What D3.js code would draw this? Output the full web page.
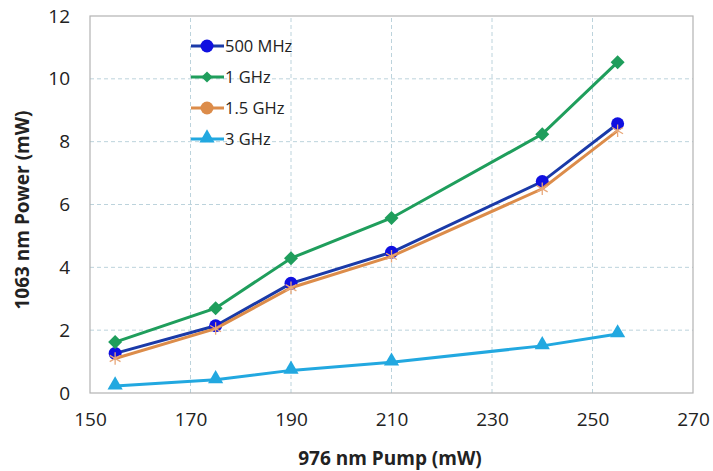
<!DOCTYPE html>
<html>
<head>
<meta charset="utf-8">
<script src="https://cdn.jsdelivr.net/npm/d3@7"></script>
<style>
  body { margin: 0; background: #fff; }
  svg text { font-family: "Open Sans", "Liberation Sans", sans-serif; }
</style>
</head>
<body>
<svg id="chart" width="713" height="471"></svg>
<script>
// pump power (mW) at each measurement
const pump = [155, 175, 190, 210, 240, 255];
const seriesNames = ["500 MHz", "1 GHz", "1.5 GHz", "3 GHz"];
const p500MHz = [1.26, 2.14, 3.49, 4.48, 6.73, 8.57];
const p1GHz   = [1.62, 2.70, 4.29, 5.57, 8.24, 10.53];
const p1_5GHz = [1.10, 2.05, 3.35, 4.35, 6.50, 8.35];
const p3GHz   = [0.22, 0.42, 0.72, 0.98, 1.50, 1.88];
const xTicks = [150, 170, 190, 210, 230, 250, 270];
const yTicks = [0, 2, 4, 6, 8, 10, 12];

const svg = d3.select("#chart");
const margin = {left: 90, right: 20, top: 16, bottom: 78};
const width = 713, height = 471;
const x = d3.scaleLinear().domain([150, 270]).range([margin.left, width - margin.right]);
const y = d3.scaleLinear().domain([0, 12]).range([height - margin.bottom, margin.top]);

const series = [
  {name: seriesNames[0], vals: p500MHz, line: "#1a3aa8", fill: "#1010e0", shape: "circle"},
  {name: seriesNames[1], vals: p1GHz,   line: "#1f9e5c", fill: "#1f9e5c", shape: "diamond"},
  {name: seriesNames[2], vals: p1_5GHz, line: "#dc8c4a", fill: "#dc8c4a", shape: "cross"},
  {name: seriesNames[3], vals: p3GHz,   line: "#22a8e0", fill: "#22a8e0", shape: "triangle"}
];

// grid
const grid = svg.append("g");
yTicks.slice(1, -1).forEach(function(t){
  grid.append("line")
    .attr("x1", x(150)).attr("x2", x(270))
    .attr("y1", y(t)).attr("y2", y(t))
    .attr("stroke", "#bcd3dc").attr("stroke-dasharray", "4,3").attr("stroke-width", 1);
});
xTicks.slice(1, -1).forEach(function(t){
  grid.append("line")
    .attr("x1", x(t)).attr("x2", x(t))
    .attr("y1", y(0)).attr("y2", y(12))
    .attr("stroke", "#bcd3dc").attr("stroke-dasharray", "4,3").attr("stroke-width", 1);
});

// plot frame
svg.append("rect")
  .attr("x", x(150)).attr("y", y(12))
  .attr("width", x(270) - x(150)).attr("height", y(0) - y(12))
  .attr("fill", "none").attr("stroke", "#b3b3b3").attr("stroke-width", 1.2);

// axes
const xAxis = svg.append("g")
  .attr("transform", "translate(0," + y(0) + ")")
  .call(d3.axisBottom(x).tickValues(xTicks).tickSize(0).tickPadding(20));
xAxis.select(".domain").remove();
xAxis.selectAll("text").attr("font-size", 19).attr("fill", "#222");

const yAxis = svg.append("g")
  .attr("transform", "translate(" + x(150) + ",0)")
  .call(d3.axisLeft(y).tickValues(yTicks).tickSize(0).tickPadding(20));
yAxis.select(".domain").remove();
yAxis.selectAll("text").attr("font-size", 19).attr("fill", "#222");

svg.append("text")
  .attr("x", 390).attr("y", 465)
  .attr("text-anchor", "middle")
  .attr("font-size", 19).attr("font-weight", "bold").attr("fill", "#222")
  .text("976 nm Pump (mW)");

svg.append("text")
  .attr("transform", "translate(29,210) rotate(-90)")
  .attr("text-anchor", "middle")
  .attr("font-size", 19).attr("font-weight", "bold").attr("fill", "#222")
  .text("1063 nm Power (mW)");

function drawMarker(g, cx, cy, s, shape, size) {
  const k = size || 1;
  if (shape === "circle") {
    g.append("circle").attr("cx", cx).attr("cy", cy).attr("r", 6.5 * k).attr("fill", s.fill);
  } else if (shape === "diamond") {
    const r = 7 * k;
    g.append("path")
      .attr("d", "M" + cx + "," + (cy - r) + "L" + (cx + r) + "," + cy + "L" + cx + "," + (cy + r) + "L" + (cx - r) + "," + cy + "Z")
      .attr("fill", s.fill);
  } else if (shape === "triangle") {
    g.append("path").attr("d", d3.symbol(d3.symbolTriangle, 100 * k * k)())
      .attr("transform", "translate(" + cx + "," + (cy - 1) + ")").attr("fill", s.fill);
  } else if (shape === "cross") {
    g.append("path").attr("d", d3.symbol(d3.symbolAsterisk, 110)())
      .attr("transform", "translate(" + cx + "," + cy + ")")
      .attr("fill", "none").attr("stroke", "#e8a87a").attr("stroke-width", 1.3);
  }
}

const line = d3.line().x(function(d){ return x(d[0]); }).y(function(d){ return y(d[1]); });

series.forEach(function(s){
  const pts = pump.map(function(p, i){ return [p, s.vals[i]]; });
  const g = svg.append("g");
  g.append("path").datum(pts).attr("d", line)
    .attr("fill", "none").attr("stroke", s.line).attr("stroke-width", 3);
  pts.forEach(function(d){ drawMarker(g, x(d[0]), y(d[1]), s, s.shape); });
});

// legend
const legend = svg.append("g");
series.forEach(function(s, i){
  const ly = 46 + i * 31;
  legend.append("line").attr("x1", 191).attr("x2", 224).attr("y1", ly).attr("y2", ly)
    .attr("stroke", s.line).attr("stroke-width", 3);
  const legShape = s.shape === "cross" ? "circle" : s.shape;
  drawMarker(legend, 207, ly, s, legShape, s.shape === "diamond" ? 0.8 : 1);
  legend.append("text").attr("x", 225).attr("y", ly + 6)
    .attr("font-size", 16.5).attr("fill", "#222").text(s.name);
});
</script>
</body>
</html>
